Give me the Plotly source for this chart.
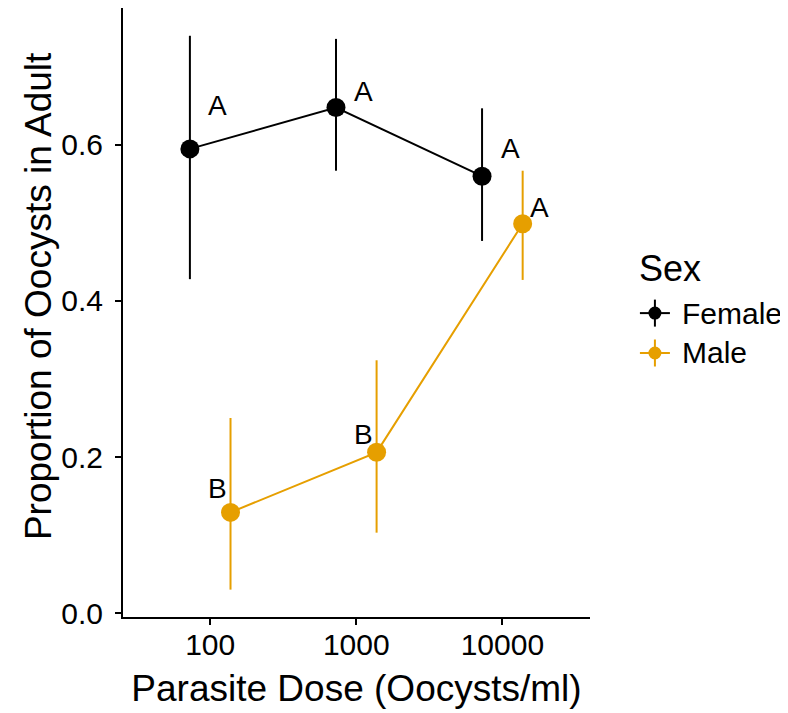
import math
import plotly.graph_objects as go

# dose groups (oocysts/ml) and the two sexes
doses = [100, 1000, 10000]

female_prop = [0.595, 0.648, 0.560]
female_upper = [0.740, 0.736, 0.647]
female_lower = [0.428, 0.567, 0.477]
female_letters = ["A", "A", "A"]

male_prop = [0.129, 0.206, 0.499]
male_upper = [0.250, 0.324, 0.567]
male_lower = [0.030, 0.103, 0.427]
male_letters = ["B", "B", "A"]

tick_vals = [100, 1000, 10000]
tick_text = ["100", "1000", "10000"]
y_ticks = [0.0, 0.2, 0.4, 0.6]

legend_names = ["Female", "Male"]

FONT = "Liberation Sans, Arial, Helvetica, sans-serif"
BLACK = "#000000"
ORANGE = "#E69F00"
DODGE = 0.139  # dodge in decades (log space)

# letter label offsets in px (x, y) relative to each point
female_offsets = [(28, 43), (28, 16), (28, 28)]
male_offsets = [(-13, 24), (-13, 18), (17, 16)]


def dodge(vals, d):
    return [v * 10 ** d for v in vals]


fig = go.Figure()

series = [
    ("Female", BLACK, dodge(doses, -DODGE), female_prop, female_upper, female_lower),
    ("Male", ORANGE, dodge(doses, DODGE), male_prop, male_upper, male_lower),
]
for name, col, xs, ys, up, lo in series:
    fig.add_trace(go.Scatter(
        x=xs, y=ys, name=name, mode="lines+markers", showlegend=False,
        line=dict(color=col, width=2),
        marker=dict(color=col, size=19),
        error_y=dict(type="data", symmetric=False,
                     array=[u - y for u, y in zip(up, ys)],
                     arrayminus=[y - l for y, l in zip(ys, lo)],
                     color=col, thickness=2, width=0),
    ))

# significance letters
for xs, ys, letters, offs in [
    (dodge(doses, -DODGE), female_prop, female_letters, female_offsets),
    (dodge(doses, DODGE), male_prop, male_letters, male_offsets),
]:
    for x, y, t, (dx, dy) in zip(xs, ys, letters, offs):
        fig.add_annotation(x=math.log10(x), y=y, xref="x", yref="y", text=t,
                           showarrow=False, xshift=dx, yshift=dy,
                           font=dict(family=FONT, size=28, color=BLACK))

# ggplot-style legend (pointrange keys), drawn by hand
LEG_X = 1.139     # key centre (paper)
LEG_TEXT_X = 1.193
LEG_TITLE_Y = 0.573
LEG_ROWS = [0.499, 0.4335]
fig.add_annotation(x=1.100, y=LEG_TITLE_Y, xref="paper", yref="paper", text="Sex",
                   showarrow=False, xanchor="left", yanchor="middle",
                   font=dict(family=FONT, size=36, color=BLACK))
for name, col, ry in zip(legend_names, [BLACK, ORANGE], LEG_ROWS):
    fig.add_shape(type="line", xref="paper", yref="paper", xsizemode="pixel",
                  xanchor=LEG_X, x0=-15, x1=15, y0=ry, y1=ry,
                  line=dict(color=col, width=2))
    fig.add_shape(type="line", xref="paper", yref="paper", xsizemode="pixel",
                  ysizemode="pixel", xanchor=LEG_X, yanchor=ry,
                  x0=0, x1=0, y0=-13.5, y1=13.5, line=dict(color=col, width=2))
    fig.add_shape(type="circle", xref="paper", yref="paper", xsizemode="pixel",
                  ysizemode="pixel", xanchor=LEG_X, yanchor=ry,
                  x0=-6.5, x1=6.5, y0=-6.5, y1=6.5,
                  fillcolor=col, line=dict(color=col, width=0))
    fig.add_annotation(x=LEG_TEXT_X, y=ry, xref="paper", yref="paper", text=name,
                       showarrow=False, xanchor="left", yanchor="middle",
                       font=dict(family=FONT, size=30, color=BLACK))

# y title as a rotated annotation (sits a bit above panel centre in the original)
fig.add_annotation(x=-0.182, y=0.527, xref="paper", yref="paper",
                   text="Proportion of Oocysts in Adult", textangle=-90,
                   showarrow=False, xanchor="center", yanchor="middle",
                   font=dict(family=FONT, size=37, color=BLACK))

# the page body adds 8px around the plot, so the figure is 8px smaller
fig.update_layout(
    width=780, height=705,
    margin=dict(l=115, r=198, t=0, b=96),
    plot_bgcolor="white", paper_bgcolor="white",
    font=dict(family=FONT, color=BLACK),
    showlegend=False,
)

fig.update_xaxes(
    type="log", range=[1.403, 4.600],
    tickvals=tick_vals, ticktext=tick_text,
    showline=True, linecolor=BLACK, linewidth=2,
    ticks="outside", ticklen=6, tickwidth=2, tickcolor=BLACK,
    ticklabelstandoff=-6,
    showgrid=False, zeroline=False,
    tickfont=dict(family=FONT, size=30, color=BLACK),
    title=dict(text="Parasite Dose (Oocysts/ml)", standoff=15,
               font=dict(family=FONT, size=37, color=BLACK)),
)
fig.update_yaxes(
    range=[-0.0051, 0.7756],
    tickvals=y_ticks, tickformat=".1f",
    showline=True, linecolor=BLACK, linewidth=2,
    ticks="outside", ticklen=6, tickwidth=2, tickcolor=BLACK,
    ticklabelstandoff=6,
    showgrid=False, zeroline=False,
    tickfont=dict(family=FONT, size=30, color=BLACK),
)

fig.write_html("out.html")
